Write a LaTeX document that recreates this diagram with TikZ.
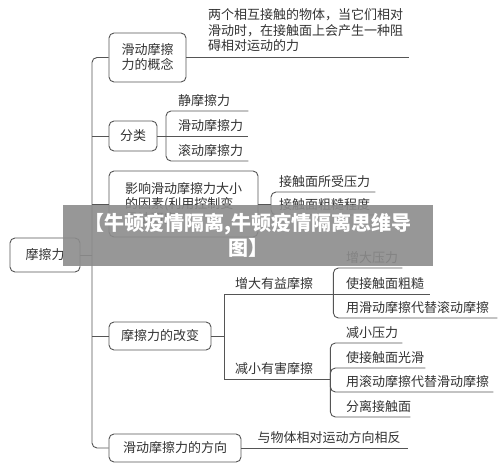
\documentclass[tikz,border=0pt]{standalone}
\usepackage{fontspec}
\setmainfont{Noto Sans CJK SC}
\definecolor{ln}{HTML}{555555}
\definecolor{tx}{HTML}{333333}
\tikzset{
  conn/.style={draw=ln, line width=0.9pt},
  rconn/.style={conn, rounded corners=5pt},
  box/.style={draw=ln, line width=0.9pt, rounded corners=5pt, text=tx, inner sep=0pt,
    align=center, font=\fontsize{13}{15}\selectfont},
  item/.style={anchor=south west, inner xsep=0pt, inner ysep=4.5pt, align=left,
    text=tx, font=\fontsize{13}{15.5}\selectfont},
}
\begin{document}
\begin{tikzpicture}[x=1pt, y=-1pt]
\useasboundingbox[fill=white] (0,0) rectangle (500,473);

% main boxes
\node[box, minimum width=70pt, minimum height=34pt] (root) at (45,255) {摩擦力};
\node[box, minimum width=77pt, minimum height=49pt] (b1) at (147.5,57.5) {滑动摩擦\\力的概念};
\node[box, minimum width=48pt, minimum height=30pt] (b2) at (133,136) {分类};
\node[box, minimum width=149pt, minimum height=66pt, align=left] (b3) at (183.5,204)
  {影响滑动摩擦力大小\\的因素(利用控制变\\量法研究)};
\node[box, minimum width=102pt, minimum height=28pt] (b4) at (160,336) {摩擦力的改变};
\node[box, minimum width=132pt, minimum height=28pt] (b5) at (175,448) {滑动摩擦力的方向};

% trunk
\coordinate (t) at (92,255);
\draw[conn] (root.east) -- (t);
\draw[rconn] (t) |- (b1.west);
\draw[rconn] (t) |- (b5.west);
\draw[conn] (t |- b2.west) -- (b2.west);
\draw[conn] (t |- b3.west) -- (b3.west);
\draw[conn] (t |- b4.west) -- (b4.west);

% concept
\node[anchor=south west, inner xsep=0pt, inner ysep=5.5pt, text width=201pt, align=left,
  text=tx, font=\fontsize{13}{15.5}\selectfont] (d1) at (208,57.5)
  {两个相互接触的物体，当它们相对\\滑动时，在接触面上会产生一种阻\\碍相对运动的力};
\draw[conn] (b1.east) -- (d1.south east);

% classification
\coordinate (j2) at (166,136);
\node[item, text width=82pt] (c21) at (166,111) {\hspace*{12pt}静摩擦力};
\node[item, text width=82pt] (c22) at (166,136) {\hspace*{12pt}滑动摩擦力};
\node[item, text width=82pt] (c23) at (166,161) {\hspace*{12pt}滚动摩擦力};
\draw[conn] (b2.east) -- (j2);
\draw[rconn] (j2) |- (c21.south east);
\draw[conn] (j2) -- (c22.south east);
\draw[rconn] (j2) |- (c23.south east);

% factors
\coordinate (j3) at (271,204);
\node[item, text width=104pt] (c31) at (271,192) {\hspace*{8pt}接触面所受压力};
\node[item, text width=104pt] (c32) at (271,215) {\hspace*{8pt}接触面粗糙程度};
\draw[conn] (b3.east) -- (j3);
\draw[rconn] (j3) |- (c31.south east);
\draw[rconn] (j3) |- (c32.south east);

% change
\coordinate (j4) at (224,336);
\node[item, text width=109pt] (c41) at (224,294) {\hspace*{11pt}增大有益摩擦};
\node[item, text width=106pt] (c42) at (224,379) {\hspace*{11pt}减小有害摩擦};
\draw[conn] (b4.east) -- (j4);
\draw[conn] (j4) |- (c41.south east);
\draw[conn] (j4) |- (c42.south east);

% increase
\node[item, text width=69pt] (a1) at (333,268) {\hspace*{13pt}增大压力};
\node[item, text width=97pt] (a2) at (333,294) {\hspace*{13pt}使接触面粗糙};
\node[item, text width=164pt] (a3) at (333,318) {\hspace*{13pt}用滑动摩擦代替滚动摩擦};
\draw[rconn] (c41.south east) |- (a1.south east);
\draw[conn] (c41.south east) -- (a2.south east);
\draw[rconn] (c41.south east) |- (a3.south east);

% decrease
\node[item, text width=72pt] (e1) at (330,343) {\hspace*{16pt}减小压力};
\node[item, text width=95pt] (e2) at (330,368) {\hspace*{16pt}使接触面光滑};
\node[item, text width=163pt] (e3) at (330,392) {\hspace*{16pt}用滚动摩擦代替滑动摩擦};
\node[item, text width=80pt] (e4) at (330,417) {\hspace*{16pt}分离接触面};
\draw[rconn] (c42.south east) |- (e1.south east);
\draw[rconn] (c42.south east) |- (e2.south east);
\draw[rconn] (c42.south east) |- (e3.south east);
\draw[rconn] (c42.south east) |- (e4.south east);

% direction
\node[item, text width=166pt] (d5) at (b5.east) {\hspace*{16pt}与物体相对运动方向相反};
\draw[conn] (b5.east) -- (d5.south east);

% banner
\node[fill=black!45, fill opacity=0.9, text opacity=1, text=white, minimum width=370pt,
  minimum height=61pt, inner sep=0pt, align=center,
  font=\fontsize{20}{25}\selectfont\bfseries] (banner) at (248,235.5)
  {【牛顿疫情隔离,牛顿疫情隔离思维导\\图】};
\end{tikzpicture}
\end{document}
